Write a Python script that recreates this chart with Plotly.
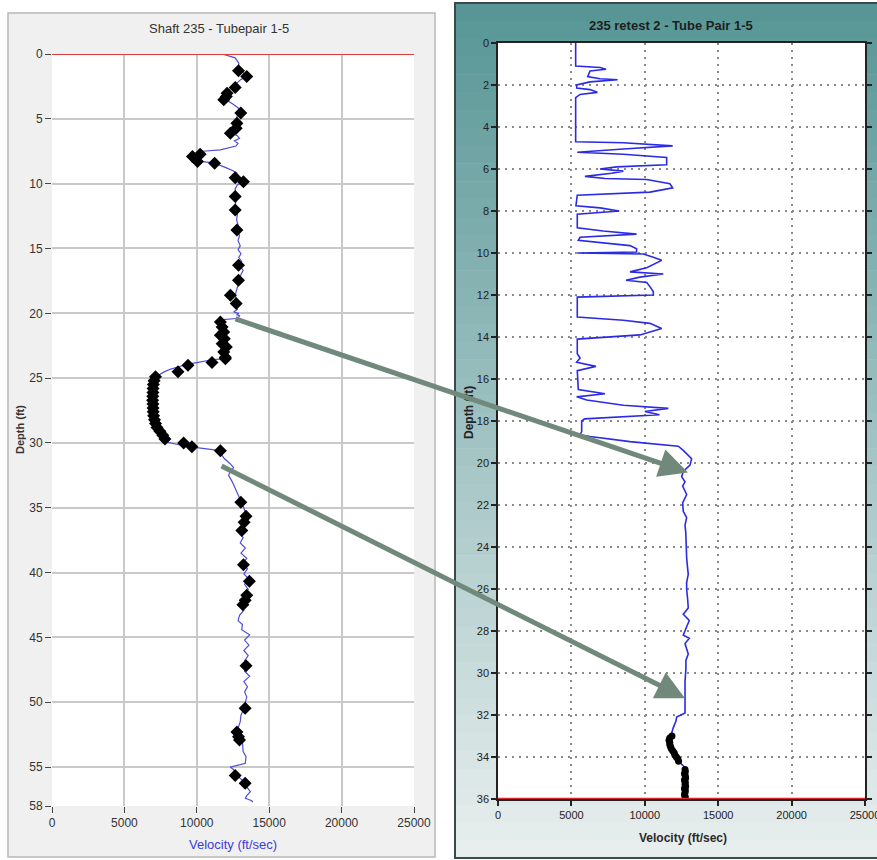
import plotly.graph_objects as go

# ---------------- data: left chart (Shaft 235 - Tubepair 1-5) ----------------
left_depth = [0.0, 0.3, 0.7, 1.1, 1.5, 1.7, 2.0, 2.4, 2.7, 2.9, 3.2, 3.5, 3.9, 4.2, 4.4, 4.7, 4.9,
              5.2, 5.5, 5.8, 6.1, 6.3, 6.5, 6.7, 6.9, 7.1, 7.4, 7.5, 7.7, 7.9, 8.1, 8.3, 8.4, 8.6,
              8.8, 9.0, 9.2, 9.4, 9.6, 9.85, 10.1, 10.4, 10.8, 11.2, 11.6, 12.0, 12.4, 12.8, 13.2,
              13.6, 14.0, 14.4, 14.8, 15.1, 15.4, 15.7, 16.0, 16.3, 16.7, 17.0, 17.4, 17.8, 18.2,
              18.6, 19.0, 19.4, 19.7, 19.9, 20.0, 20.1, 20.2, 20.4, 20.5, 20.7, 21.0, 21.4, 21.8,
              22.2, 22.6, 23.0, 23.3, 23.5, 23.6, 23.8, 23.9, 24.1, 24.3, 24.5, 24.8, 25.05, 25.5,
              26.0, 26.5, 27.0, 27.6, 28.2, 28.7, 29.1, 29.4, 29.7, 29.9, 30.1, 30.3, 30.5, 30.6,
              30.9, 31.2, 31.6, 31.9, 32.2, 32.5, 33.0, 33.5, 34.0, 34.6, 35.0, 35.6, 36.0, 36.4,
              36.9, 37.3, 37.7, 38.1, 38.5, 38.9, 39.3, 39.7, 40.1, 40.5, 40.9, 41.3, 41.7, 42.1,
              42.5, 42.9, 43.3, 43.7, 44.0, 44.4, 44.8, 45.2, 45.6, 46.0, 46.4, 46.8, 47.2, 47.6,
              48.0, 48.4, 48.8, 49.2, 49.6, 50.0, 50.5, 51.0, 51.5, 52.0, 52.5, 53.0, 53.5, 53.8,
              54.2, 54.7, 55.0, 55.2, 55.6, 56.0, 56.2, 56.6, 56.9, 57.2, 57.4, 57.6, 57.7]
left_velocity = [11750, 12650, 12900, 12880, 13250, 13450, 13000, 12650, 12300, 12090, 12000, 11970,
                 12540, 12900, 13040, 12800, 12770, 12950, 12770, 12600, 12320, 12800, 12950, 12600,
                 12850, 12700, 11630, 10390, 10000, 9700, 9900, 10390, 11180, 11700, 12090, 12500,
                 12770, 12650, 12650, 13220, 12800, 12650, 12700, 12750, 12650, 12700, 12800, 12750,
                 12850, 12800, 12950, 12850, 13000, 12850, 13050, 12900, 13100, 12950, 13200, 13050,
                 12950, 12900, 12800, 12650, 12750, 12700, 12800, 12540, 12900, 12750, 12980, 12700,
                 11630, 11500, 11750, 11900, 11700, 12000, 11850, 11900, 11950, 11860, 10950, 10000,
                 9480, 8800, 8200, 7780, 7320, 7100, 7000, 6980, 6950, 6970, 6980, 7050, 7200, 7500,
                 7780, 7800, 7800, 8600, 9590, 10950, 11630, 11700, 11900, 12300, 12540, 12300, 12200,
                 12450, 12650, 12900, 13110, 13250, 13400, 13150, 13300, 12900, 13200, 13000, 13350,
                 13050, 13450, 13150, 13500, 13250, 13600, 13300, 13550, 13200, 13400, 13000, 13250,
                 12950, 12850, 13150, 13100, 13650, 13300, 13600, 13250, 13550, 13300, 13700, 13300,
                 13650, 13250, 13500, 13300, 13450, 13350, 13250, 13050, 13000, 12850, 12950, 13150,
                 13150, 13200, 13400, 13350, 12310, 12550, 12700, 13100, 13350, 13500, 13700, 13450,
                 13350, 13800, 13860]

left_mark_depth = [1.29, 1.73, 2.58, 3.02, 3.27, 3.53, 4.56, 5.34, 5.72, 6.11, 7.73, 7.91, 8.30, 8.43,
                   9.54, 9.85, 11.0, 12.04, 13.58, 16.29, 17.45, 18.6, 19.25, 20.67, 21.06, 21.44,
                   21.7, 21.96, 22.35, 22.6, 22.99, 23.38, 23.5, 23.8, 24.0, 24.5, 24.9, 25.2, 25.5,
                   25.8, 26.1, 26.4, 26.7, 27.0, 27.3, 27.6, 27.9, 28.2, 28.5, 28.8, 29.1, 29.4, 29.7,
                   30.0, 30.3, 30.6, 34.57, 35.65, 36.11, 36.75, 39.4, 40.67, 41.75, 42.14, 42.47,
                   47.19, 50.47, 52.3, 52.65, 52.9, 55.65, 56.24]
left_mark_velocity = [12880, 13450, 12650, 12090, 12040, 11860, 13040, 12770, 12720, 12320, 10230,
                      9700, 10050, 11230, 12650, 13220, 12650, 12650, 12770, 12880, 12880, 12320,
                      12720, 11630, 11750, 11860, 11630, 11900, 11750, 12040, 11860, 11970, 11975,
                      11050, 9390, 8700, 7150, 7050, 7000, 6980, 6970, 6960, 6950, 6970, 6980, 6990,
                      7020, 7080, 7150, 7250, 7450, 7650, 7800, 9090, 9660, 11630, 13040, 13400,
                      13270, 13110, 13220, 13630, 13450, 13340, 13180, 13400, 13340, 12770, 12880,
                      12950, 12650, 13340]

# ---------------- data: right chart (235 retest 2 - Tube Pair 1-5) ----------------
right_depth = [0.0, 1.1, 1.17, 1.25, 1.33, 1.6, 1.7, 1.75, 1.85, 2.0, 2.15, 2.22, 2.35, 2.45, 2.6,
               4.7, 4.75, 4.85, 4.9, 5.05, 5.2, 5.3, 5.45, 5.8, 5.9, 6.0, 6.1, 6.2, 6.35, 6.45, 6.5,
               6.7, 6.9, 7.1, 7.25, 7.75, 7.85, 8.0, 8.15, 8.8, 8.95, 9.1, 9.25, 9.4, 9.65, 9.8,
               9.95, 10.0, 10.05, 10.2, 10.35, 10.7, 10.9, 11.0, 11.15, 11.3, 11.4, 11.6, 11.85,
               12.0, 12.1, 13.05, 13.2, 13.35, 13.6, 13.9, 14.1, 14.8, 15.0, 15.2, 15.4, 15.6,
               16.5, 16.7, 16.85, 17.0, 17.25, 17.4, 17.55, 17.7, 17.9, 18.0, 18.5, 18.66, 18.74,
               18.98, 19.17, 19.2, 19.4, 19.8, 20.1, 20.4, 20.65, 20.9, 21.1, 21.5, 21.9, 22.3,
               22.6, 22.95, 23.3, 23.7, 24.1, 24.5, 24.9, 25.3, 25.7, 26.0, 26.5, 26.9, 27.2, 27.5,
               27.8, 28.0, 28.2, 28.35, 28.6, 29.1, 29.4, 29.8, 30.4, 31.2, 31.9, 32.1, 32.3, 32.6,
               32.9, 33.2, 33.5, 33.9, 34.2, 34.5, 35.0, 35.5, 36.0]
right_velocity = [5290, 5290, 6950, 7360, 6270, 6110, 6950, 8150, 6270, 5360, 5360, 6270, 6770,
                  5590, 5290, 5290, 8540, 11260, 11900, 8540, 5400, 8540, 11490, 11490, 8080, 6950,
                  8540, 7740, 5920, 7290, 10130, 11710, 11900, 10350, 5400, 5310, 6950, 8260, 5400,
                  5400, 7170, 9440, 5590, 5470, 8990, 9440, 9440, 5400, 9900, 10580, 11150, 10130,
                  8990, 11260, 9670, 8720, 10130, 10350, 10580, 10580, 5400, 5400, 8540, 10350,
                  11150, 9670, 5400, 5400, 5590, 5360, 6670, 5400, 5470, 7290, 5360, 6040, 8540,
                  11600, 10000, 11000, 5900, 5700, 5700, 5590, 6270, 8990, 11710, 12280, 12620,
                  13190, 13080, 12620, 12510, 12740, 12580, 12850, 12580, 12620, 12850, 12740,
                  12790, 12800, 12850, 12850, 12900, 12960, 12850, 12850, 12920, 12960, 12620,
                  13030, 12850, 12740, 12620, 13030, 12740, 12960, 12800, 12800, 12740, 12740,
                  12740, 12170, 12120, 11940, 11830, 11700, 11720, 12030, 12300, 12740, 12780,
                  12700, 12740]

right_mark_depth = [33.0, 33.1, 33.2, 33.3, 33.4, 33.5, 33.6, 33.7, 33.8, 33.9, 34.0, 34.1, 34.2,
                    34.6, 34.7, 34.8, 34.9, 35.0, 35.1, 35.2, 35.3, 35.4, 35.5, 35.6, 35.7, 35.8,
                    35.9, 36.0]
right_mark_velocity = [11850, 11700, 11650, 11700, 11700, 11750, 11800, 11900, 12000, 12050, 12150,
                       12250, 12300, 12740, 12760, 12700, 12760, 12780, 12700, 12760, 12740, 12780,
                       12700, 12760, 12740, 12700, 12760, 12740]

velocity_ticks = [0, 5000, 10000, 15000, 20000, 25000]
left_depth_ticks = [0, 5, 10, 15, 20, 25, 30, 35, 40, 45, 50, 55, 58]
right_depth_ticks = list(range(0, 37, 2))

# arrows: (head velocity, head depth on right chart), tail offset in pixels
arrow_heads = [(12940, 20.45), (12740, 31.2)]
arrow_tails_px = [(-454, -154), (-465, -233)]

W, H = 877, 860
def px(x):
    return x / W
def py(y):
    return 1 - y / H

NARROW = "Liberation Sans Narrow, Arial Narrow, Liberation Sans, sans-serif"

fig = go.Figure()

fig.add_trace(go.Scatter(x=left_velocity, y=left_depth, mode="lines",
                         line=dict(color="#4f4fd6", width=1.2), xaxis="x", yaxis="y",
                         showlegend=False, hoverinfo="skip"))
fig.add_trace(go.Scatter(x=left_mark_velocity, y=left_mark_depth, mode="markers",
                         marker=dict(symbol="diamond", size=10, color="black"),
                         xaxis="x", yaxis="y", showlegend=False))
fig.add_trace(go.Scatter(x=right_velocity, y=right_depth, mode="lines",
                         line=dict(color="#2b2be6", width=1.6), xaxis="x2", yaxis="y2",
                         showlegend=False, hoverinfo="skip"))
fig.add_trace(go.Scatter(x=right_mark_velocity, y=right_mark_depth, mode="markers",
                         marker=dict(symbol="circle", size=7, color="black"),
                         xaxis="x2", yaxis="y2", showlegend=False))

shapes = []
# left panel background
shapes.append(dict(type="rect", xref="paper", yref="paper", x0=px(8), x1=px(435), y0=py(857), y1=py(13),
                   fillcolor="#f0f0f0", line=dict(color="#b8b8b8", width=1.5), layer="below"))
# right panel gradient bands
top_c = (88, 150, 150)
bot_c = (232, 238, 238)
nb = 48
y_top, y_bot = 3, 858
for i in range(nb):
    t = i / (nb - 1)
    c = tuple(int(round(top_c[k] + (bot_c[k] - top_c[k]) * t)) for k in range(3))
    ya = y_top + (y_bot - y_top) * i / nb
    yb = y_top + (y_bot - y_top) * (i + 1) / nb
    shapes.append(dict(type="rect", xref="paper", yref="paper", x0=px(455), x1=1.0,
                       y0=py(yb + 0.5), y1=py(ya), fillcolor="rgb(%d,%d,%d)" % c,
                       line=dict(width=0), layer="below"))
shapes.append(dict(type="rect", xref="paper", yref="paper", x0=px(455), x1=px(880), y0=py(858), y1=py(3),
                   fillcolor="rgba(0,0,0,0)", line=dict(color="#3a4a4a", width=2), layer="below"))
# plot areas
shapes.append(dict(type="rect", xref="paper", yref="paper", x0=px(52), x1=px(414), y0=py(806), y1=py(54),
                   fillcolor="white", line=dict(width=0), layer="below"))
shapes.append(dict(type="rect", xref="paper", yref="paper", x0=px(498), x1=px(865), y0=py(799), y1=py(43),
                   fillcolor="white", line=dict(width=0), layer="below"))
# red reference lines
shapes.append(dict(type="line", xref="x", yref="y", x0=0, x1=25000, y0=0, y1=0,
                   line=dict(color="#e23b3b", width=1.8)))
shapes.append(dict(type="line", xref="x2", yref="y2", x0=0, x1=25000, y0=36, y1=36,
                   line=dict(color="#e0262a", width=2.5)))

def label(text, x, y, size, color, angle=0):
    return dict(text=text, xref="paper", yref="paper", x=px(x), y=py(y), xanchor="center",
                yanchor="middle", showarrow=False, textangle=angle,
                font=dict(family=NARROW, size=size, color=color))

annotations = [
    label("Shaft 235 - Tubepair 1-5", 219, 28, 13, "#333333"),
    label("Velocity (ft/sec)", 233, 844, 13, "#3c3cd8"),
    label("<b>Depth (ft)</b>", 20, 430, 11, "#333333", -90),
    label("<b>235 retest 2 - Tube Pair 1-5</b>", 671, 25, 13, "#1e1e1e"),
    label("<b>Velocity (ft/sec)</b>", 683, 838, 12, "#2a2a2a"),
    label("<b>Depth (ft)</b>", 469, 412, 12, "#222222", -90),
]
for (hv, hd), (ax, ay) in zip(arrow_heads, arrow_tails_px):
    annotations.append(dict(x=hv, y=hd, xref="x2", yref="y2", ax=ax, ay=ay, axref="pixel", ayref="pixel",
                            text="", showarrow=True, arrowhead=2, arrowsize=1.15, arrowwidth=5,
                            arrowcolor="#70897a", standoff=0))

fig.update_layout(
    width=W, height=H, margin=dict(l=0, r=0, t=0, b=0, autoexpand=False),
    paper_bgcolor="white", plot_bgcolor="rgba(0,0,0,0)",
    shapes=shapes, annotations=annotations, showlegend=False,
    xaxis=dict(domain=[px(52), px(414)], anchor="y", range=[0, 25000], tickvals=velocity_ticks,
               ticktext=[str(v) for v in velocity_ticks], showgrid=True, gridcolor="#c9c9c9",
               gridwidth=1.5, zeroline=False, showline=False, ticks="outside", ticklen=6,
               tickcolor="#444", automargin=False, ticklabeloverflow="allow",
               tickfont=dict(family=NARROW, size=12, color="#333")),
    yaxis=dict(domain=[py(806), py(54)], anchor="x", range=[58, 0], tickvals=left_depth_ticks,
               showgrid=True, gridcolor="#c9c9c9", gridwidth=1.5, zeroline=False, showline=False,
               ticks="outside", ticklen=6, tickcolor="#444", automargin=False,
               ticklabeloverflow="allow",
               tickfont=dict(family=NARROW, size=12, color="#333")),
    xaxis2=dict(domain=[px(498), px(865)], anchor="y2", range=[0, 25000], tickvals=velocity_ticks,
                ticktext=[str(v) for v in velocity_ticks], showgrid=True, gridcolor="#8a8a8a",
                griddash="2px,5px", gridwidth=1.5, zeroline=False, showline=True, mirror=True,
                linecolor="#222", linewidth=1.5, ticks="outside", ticklen=5, tickwidth=2,
                tickcolor="#222", automargin=False, ticklabeloverflow="allow",
                tickfont=dict(family=NARROW, size=11, color="#222")),
    yaxis2=dict(domain=[py(799), py(43)], anchor="x2", range=[36, 0], tickvals=right_depth_ticks,
                showgrid=True, gridcolor="#8a8a8a", griddash="2px,5px", gridwidth=1.5, zeroline=False,
                showline=True, mirror="ticks", linecolor="#222", linewidth=1.5, ticks="outside",
                ticklen=5, tickwidth=2, tickcolor="#222", automargin=False,
                ticklabeloverflow="allow",
                tickfont=dict(family=NARROW, size=11, color="#222")),
)

fig.write_html("out.html", config={"displayModeBar": False},
               post_script="document.body.style.margin='0';document.body.style.padding='0';"
                           "document.body.style.overflow='hidden';")
